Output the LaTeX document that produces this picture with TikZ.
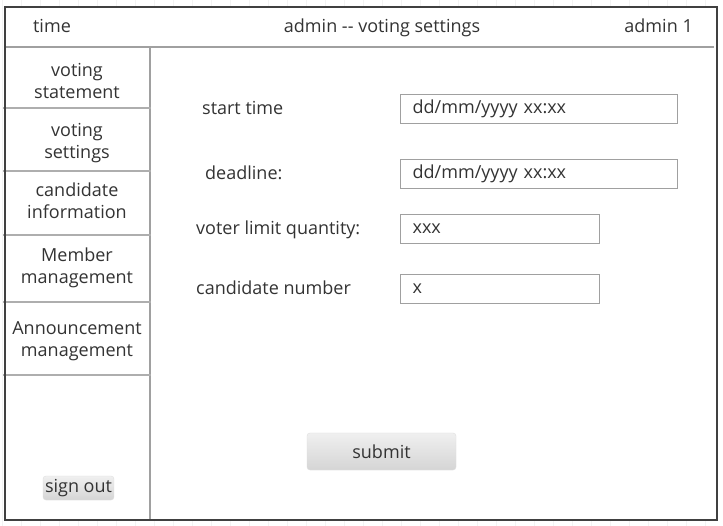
\documentclass[tikz,border=0pt]{standalone}
\usepackage{fontspec}
\setmainfont{Open Sans}
\definecolor{ink}{HTML}{333333}
\definecolor{framec}{HTML}{404040}
\definecolor{rulec}{HTML}{A0A0A0}
\definecolor{gridc}{HTML}{F3F3F3}
\tikzset{
  txt/.style={text=ink, font=\fontsize{18}{21.5}\selectfont, inner sep=0pt},
  menu/.style={txt, align=center},
  lbl/.style={txt, anchor=base west},
  field/.style={draw=rulec, line width=1.2pt, anchor=north west, minimum height=29pt,
    text width=#1, align=left, inner xsep=12pt, inner ysep=0pt, text=ink, font=\fontsize{18}{20}\selectfont},
  btn/.style={rounded corners=3pt, top color=gray!12, bottom color=gray!33, draw=gray!25,
    text=ink, font=\fontsize{18}{20}\selectfont, inner sep=0pt}
}
\begin{document}
\begin{tikzpicture}[x=1pt, y=-1pt]
      \useasboundingbox (0,0) rectangle (723,526);
      % background grid
      \draw[gridc, xshift=2pt] (-2,0) grid[step=19] (723,526);
      \fill[white] (4.5,7.5) rectangle (717,520);

      % Header
      \draw[rulec, line width=1.2pt] (4,47) -- (714,47);
      \node[txt, anchor=base] (time) at (52,33) {time};
      \node[txt, anchor=base] (title) at (382,33) {admin -{}- voting settings};
      \node[txt, anchor=base east] (user) at (693,33) {admin 1};

      % Sidebar
      \draw[rulec, line width=1.2pt] (150,47) -- (150,520);
      \foreach \y in {108,171,235,302,375}
        \draw[rulec!85, line width=1.2pt] (3,\y) -- (151,\y);
      \node[menu] (m1) at (77,81) {voting\\statement};
      \node[menu] (m2) at (77,143) {voting\\settings};
      \node[menu] (m3) at (77,201) {candidate\\information};
      \node[menu] (m4) at (77,268) {Member\\management};
      \node[menu] (m5) at (77,341) {Announcement\\management};
      \node[btn, minimum width=71pt, minimum height=24pt] (signout) at (78.5,488) {sign out};

      % Form
      \node[lbl] (lstart) at (202,115) {start time};
      \node[lbl] (ldead) at (205,180) {deadline:};
      \node[lbl] (lvoter) at (196,235) {voter limit quantity:};
      \node[lbl] (lcand) at (196,295) {candidate number};
      \node[field=253pt] (fstart) at (400,94) {dd/mm/yyyy xx:xx};
      \node[field=253pt] (fdead) at (400,159) {dd/mm/yyyy xx:xx};
      \node[field=175pt] (fvoter) at (400,214) {xxx};
      \node[field=175pt] (fcand) at (400,274) {x};
      \node[btn, minimum width=149pt, minimum height=37pt] (submit) at (381.5,451.5) {submit};

      % Frame
      \draw[framec, line width=2pt] (4.5,7.5) rectangle (717,520);
  \end{tikzpicture}
\end{document}
